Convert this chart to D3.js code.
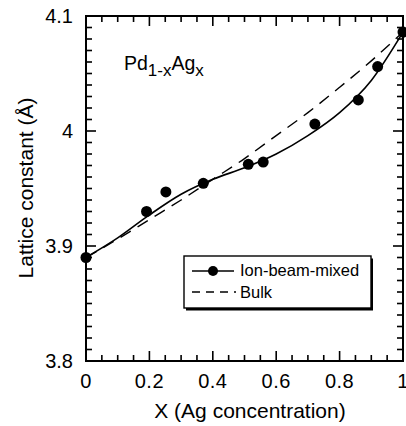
<!DOCTYPE html>
<html><head><meta charset="utf-8">
<script src="https://cdn.jsdelivr.net/npm/d3@7"></script>
<style>body{margin:0;background:#fff}svg{display:block}text{font-family:"Liberation Sans",Arial,sans-serif;fill:#000}</style>
</head><body><svg id="c" width="406" height="426"></svg>
<script>
const xPoints = [0, 0.191, 0.252, 0.370, 0.512, 0.559, 0.722, 0.859, 0.920, 1.0];
const yPoints = [3.890, 3.930, 3.947, 3.9545, 3.971, 3.973, 4.006, 4.027, 4.056, 4.086];
const fitX = [0, 0.1, 0.2, 0.3, 0.4, 0.5, 0.6, 0.7, 0.8, 0.9, 1.0];
const fitY = [3.890, 3.907, 3.927, 3.945, 3.958, 3.968, 3.980, 3.996, 4.016, 4.044, 4.086];
const bulkX = [0, 0.1, 0.2, 0.3, 0.4, 0.5, 0.6, 0.7, 0.8, 0.9, 1.0];
const bulkY = [3.890, 3.906, 3.923, 3.940, 3.958, 3.976, 3.996, 4.016, 4.038, 4.061, 4.086];
const xTicks = [0, 0.2, 0.4, 0.6, 0.8, 1];
const xTickLabels = ["0", "0.2", "0.4", "0.6", "0.8", "1"];
const yTicks = [3.8, 3.9, 4.0, 4.1];
const yTickLabels = ["3.8", "3.9", "4", "4.1"];
const xMinorTicks = [0, 0.05, 0.1, 0.15, 0.2, 0.25, 0.3, 0.35, 0.4, 0.45, 0.5, 0.55, 0.6, 0.65, 0.7, 0.75, 0.8, 0.85, 0.9, 0.95, 1];
const legendLabels = ["Ion-beam-mixed", "Bulk"];

const svg = d3.select("#c");
const L = 86, R = 403, T = 16, B = 361;
const x = d3.scaleLinear().domain([0, 1]).range([L, R]);
const y = d3.scaleLinear().domain([3.8, 4.1]).range([B, T]);

svg.append("rect").attr("x", L).attr("y", T).attr("width", R - L).attr("height", B - T)
  .attr("fill", "none").attr("stroke", "#000").attr("stroke-width", 2);

// inward ticks drawn as small filled rects
const yMinorTicks = d3.range(0, 31).map(i => 3.8 + i * 0.01);
const tk = svg.append("g").attr("id", "ticks");
xMinorTicks.forEach((v, i) => {
  const len = (i % 4 === 0) ? 10 : 6;
  tk.append("rect").attr("x", x(v) - 0.8).attr("y", B - len).attr("width", 1.6).attr("height", len).attr("fill", "#000");
  tk.append("rect").attr("x", x(v) - 0.8).attr("y", T).attr("width", 1.6).attr("height", len).attr("fill", "#000");
});
yMinorTicks.forEach((v, i) => {
  const len = (i % 10 === 0) ? 10 : 6;
  tk.append("rect").attr("x", L).attr("y", y(v) - 0.8).attr("width", len).attr("height", 1.6).attr("fill", "#000");
  tk.append("rect").attr("x", R - len).attr("y", y(v) - 0.8).attr("width", len).attr("height", 1.6).attr("fill", "#000");
});

// tick labels
xTicks.forEach((v, i) => {
  svg.append("text").attr("x", x(v)).attr("y", B + 27).attr("text-anchor", "middle")
    .attr("font-size", 20).attr("letter-spacing", 0.5).text(xTickLabels[i]);
});
yTicks.forEach((v, i) => {
  svg.append("text").attr("x", L - 13).attr("y", y(v) + 7).attr("text-anchor", "end")
    .attr("font-size", 20).text(yTickLabels[i]);
});

// axis titles
svg.append("text").attr("x", 250).attr("y", 418).attr("text-anchor", "middle")
  .attr("font-size", 21).text("X (Ag concentration)");
svg.append("text").attr("transform", "translate(33,188) rotate(-90)")
  .attr("text-anchor", "middle").attr("font-size", 21).text("Lattice constant (Å)");

// series
const bulkData = bulkX.map((v, i) => [v, bulkY[i]]);
const fitData = fitX.map((v, i) => [v, fitY[i]]);
const line = d3.line().x(d => x(d[0])).y(d => y(d[1])).curve(d3.curveMonotoneX);
svg.append("path").attr("d", line(bulkData)).attr("fill", "none").attr("stroke", "#000")
  .attr("stroke-width", 1.4).attr("stroke-dasharray", "12,8");
svg.append("path").attr("d", line(fitData)).attr("fill", "none").attr("stroke", "#000")
  .attr("stroke-width", 1.6);
svg.selectAll("circle.pt").data(xPoints).enter().append("circle").attr("class", "pt")
  .attr("cx", d => x(d)).attr("cy", (d, i) => y(yPoints[i])).attr("r", 5.5).attr("fill", "#000");

// title
const t = svg.append("text").attr("x", 124).attr("y", 70).attr("font-size", 19.5);
t.append("tspan").text("Pd");
t.append("tspan").attr("font-size", 17).attr("dy", 6).text("1-x");
t.append("tspan").attr("dy", -6).text("Ag");
t.append("tspan").attr("font-size", 17).attr("dy", 6).text("x");

// legend
const lx = 184, ly = 256, lw = 187, lh = 52;
svg.append("rect").attr("x", lx + 2).attr("y", ly + 2.5).attr("width", lw).attr("height", lh).attr("fill", "#000");
svg.append("rect").attr("x", lx).attr("y", ly).attr("width", lw).attr("height", lh)
  .attr("fill", "#fff").attr("stroke", "#000").attr("stroke-width", 1.4);
svg.append("line").attr("x1", lx + 8).attr("x2", lx + 50).attr("y1", ly + 15).attr("y2", ly + 15)
  .attr("stroke", "#000").attr("stroke-width", 1.4);
svg.append("circle").attr("cx", lx + 29).attr("cy", ly + 15).attr("r", 5).attr("fill", "#000");
svg.append("line").attr("x1", lx + 8).attr("x2", lx + 52).attr("y1", ly + 36).attr("y2", ly + 36)
  .attr("stroke", "#000").attr("stroke-width", 1.4).attr("stroke-dasharray", "8,6");
svg.append("text").attr("x", lx + 56).attr("y", ly + 20).attr("font-size", 16.5).text(legendLabels[0]);
svg.append("text").attr("x", lx + 56).attr("y", ly + 42).attr("font-size", 16.5).text(legendLabels[1]);
</script></body></html>
